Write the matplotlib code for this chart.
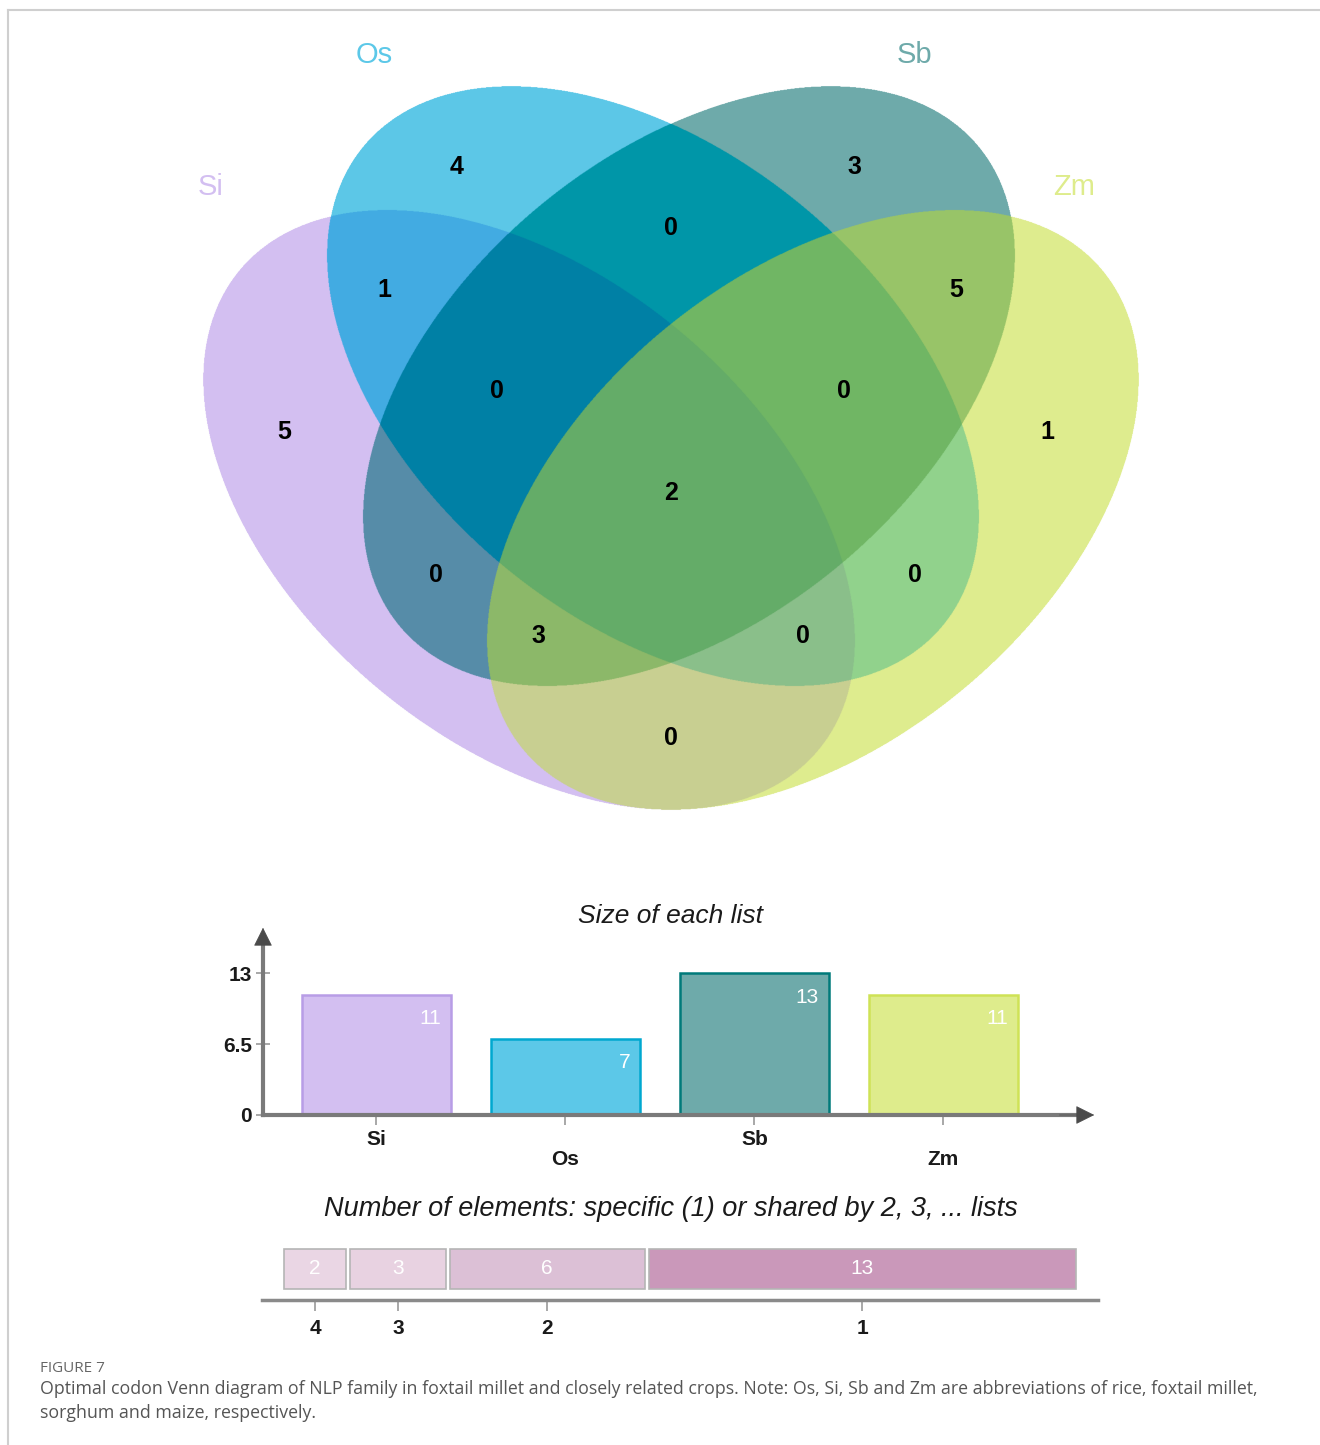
"""
Four-set Venn diagram of optimal codons with list sizes and sharing summary.
"""

import matplotlib
matplotlib.use("Agg")
import matplotlib.pyplot as plt
import numpy as np
from matplotlib.lines import Line2D
from matplotlib.patches import Rectangle

plt.rcParams["font.family"] = ["Liberation Sans", "DejaVu Sans"]

# ---- data -------------------------------------------------------------
SETS = ["Si", "Os", "Sb", "Zm"]
LIST_SIZES = [11, 7, 13, 11]

REGIONS = ["Si", "Os", "Sb", "Zm",
           "Si&Os", "Os&Sb", "Sb&Zm", "Si&Sb", "Os&Zm", "Si&Zm",
           "Si&Os&Sb", "Os&Sb&Zm", "Si&Sb&Zm", "Si&Os&Zm",
           "Si&Os&Sb&Zm"]
REGION_COUNTS = [5, 4, 3, 1,
                 1, 0, 5, 0, 0, 0,
                 0, 0, 3, 0,
                 2]

SHARED_BY = [4, 3, 2, 1]
SHARED_COUNTS = [2, 3, 6, 13]

# ---- styling / layout ------------------------------------------------
W, H = 1320, 1445
SET_COLORS = {"Si": "#D3BFF1", "Os": "#5CC8E8", "Sb": "#6EAAAA", "Zm": "#DEEC8C"}
BAR_EDGES = {"Si": "#B89DE6", "Os": "#00A8D0", "Sb": "#007A7A", "Zm": "#CFE256"}

REGION_COLORS = {
    "Si": "#D3BFF1", "Os": "#5CC7E7", "Sb": "#6EAAAA", "Zm": "#DEEC8E",
    "Si&Os": "#42ABE2", "Os&Sb": "#0096A8", "Sb&Zm": "#98C468",
    "Si&Sb": "#568CA8", "Os&Zm": "#91D28C", "Si&Zm": "#C8CF91",
    "Si&Os&Sb": "#0080A5", "Os&Sb&Zm": "#70B664", "Si&Sb&Zm": "#8CB869",
    "Si&Os&Zm": "#8ABF8A", "Si&Os&Sb&Zm": "#64AC68",
}

# ellipse geometry in pixel space (cx, cy, semi-major, semi-minor, angle)
ELLIPSES = {
    "Si": (529, 510, 376, 234, 39.6),
    "Os": (653, 386, 376, 234, 39.6),
    "Sb": (689, 386, 376, 234, -39.6),
    "Zm": (813, 510, 376, 234, -39.6),
}
LABEL_POS = {
    "Si": (284, 432), "Os": (457, 167), "Sb": (854, 167), "Zm": (1047, 432),
    "Si&Os": (384, 290), "Os&Sb": (671, 228), "Sb&Zm": (956, 290),
    "Si&Sb": (436, 575), "Os&Zm": (915, 575), "Si&Zm": (671, 738),
    "Si&Os&Sb": (497, 391), "Os&Sb&Zm": (844, 391), "Si&Sb&Zm": (538, 636),
    "Si&Os&Zm": (803, 636), "Si&Os&Sb&Zm": (671, 493),
}
SET_NAME_POS = {"Si": (211, 187), "Os": (374, 55), "Sb": (914, 55), "Zm": (1074, 187)}


def inside(X, Y, cx, cy, a, b, ang):
    t = np.deg2rad(ang)
    dx, dy = X - cx, Y - cy
    u = dx * np.cos(t) + dy * np.sin(t)
    v = -dx * np.sin(t) + dy * np.cos(t)
    return (u / a) ** 2 + (v / b) ** 2 <= 1


def main() -> None:
    fig = plt.figure(figsize=(W / 100, H / 100), dpi=100)

    # frame lines of the page
    fig.add_artist(Line2D([8 / W, 1], [1 - 10 / H] * 2, color="#cfcfcf", lw=1.5))
    fig.add_artist(Line2D([8 / W] * 2, [0, 1 - 10 / H], color="#cfcfcf", lw=1.5))

    # ---- Venn -----------------------------------------------------------
    vax = fig.add_axes([0, 0, 1, 1])
    vax.set_xlim(0, W)
    vax.set_ylim(H, 0)
    vax.axis("off")

    x0, x1, y0, y1, ss = 180, 1160, 60, 840, 2
    xs = np.arange(x0, x1, 1 / ss) + 0.5 / ss
    ys = np.arange(y0, y1, 1 / ss) + 0.5 / ss
    X, Y = np.meshgrid(xs, ys)
    code = np.zeros(X.shape, dtype=np.int16)
    for i, s in enumerate(SETS):
        code |= (inside(X, Y, *ELLIPSES[s]).astype(np.int16) << i)

    lut = np.zeros((16, 4), dtype=np.uint8)
    lut[0] = [255, 255, 255, 0]
    for region in REGIONS:
        bits = sum(1 << SETS.index(s) for s in region.split("&"))
        rgb = matplotlib.colors.to_rgb(REGION_COLORS[region])
        lut[bits] = [int(round(c * 255)) for c in rgb] + [255]
    rgba = lut[code]
    vax.imshow(rgba, extent=(x0, x1, y1, y0), interpolation="antialiased", zorder=1)
    vax.set_xlim(0, W)
    vax.set_ylim(H, 0)

    for region, n in zip(REGIONS, REGION_COUNTS):
        x, y = LABEL_POS[region]
        vax.text(x, y, str(n), ha="center", va="center", fontsize=18,
                 fontweight="bold", color="black", zorder=3)
    for s in SETS:
        x, y = SET_NAME_POS[s]
        vax.text(x, y, s, ha="center", va="center", fontsize=21,
                 color=SET_COLORS[s], zorder=3)

    # ---- size of each list ---------------------------------------------
    bx_l, bx_r, by_b, by_t = 263, 1097, 1115, 925
    bax = fig.add_axes([bx_l / W, 1 - by_b / H, (bx_r - bx_l) / W, (by_b - by_t) / H])
    bax.patch.set_alpha(0)
    xpos = np.arange(len(SETS))
    bars = bax.bar(xpos, LIST_SIZES, width=0.79,
                   color=[SET_COLORS[s] for s in SETS],
                   edgecolor=[BAR_EDGES[s] for s in SETS], linewidth=1.8, zorder=2)
    bax.set_xlim(-0.6, 3.813)
    bax.set_ylim(0, 17.4)
    for sp in bax.spines.values():
        sp.set_visible(False)
    bax.plot([-0.6, 3.7], [0, 0], color="#7a7a7a", lw=3, zorder=3, clip_on=False)
    bax.plot([-0.6, -0.6], [0, 16.5], color="#7a7a7a", lw=3, zorder=3, clip_on=False)
    bax.annotate("", xy=(3.813, 0), xytext=(3.6, 0),
                 arrowprops=dict(arrowstyle="-|>", color="#4a4a4a", lw=0.5,
                                 mutation_scale=30), annotation_clip=False)
    bax.annotate("", xy=(-0.6, 17.4), xytext=(-0.6, 16.0),
                 arrowprops=dict(arrowstyle="-|>", color="#4a4a4a", lw=0.5,
                                 mutation_scale=30), annotation_clip=False)
    bax.set_yticks([0, 6.5, 13])
    bax.set_yticklabels(["0", "6.5", "13"])
    bax.set_xticks(xpos)
    bax.set_xticklabels(SETS)
    bax.tick_params(axis="y", direction="inout", length=10, width=1.2,
                    color="#9a9a9a", labelsize=15, pad=3, labelcolor="#1a1a1a")
    bax.tick_params(axis="x", direction="out", length=7, width=1.2,
                    color="#9a9a9a", labelsize=15, pad=4, labelcolor="#1a1a1a")
    for lab in bax.get_xticklabels() + bax.get_yticklabels():
        lab.set_fontweight("bold")
    for tick in bax.xaxis.get_major_ticks()[1::2]:
        tick.set_pad(18)
    for rect, n in zip(bars, LIST_SIZES):
        bax.annotate(str(n), xy=(rect.get_x() + rect.get_width(), n),
                     xytext=(-10, -24), textcoords="offset pixels",
                     ha="right", va="center", fontsize=15, color="white", zorder=4)
    fig.text(671 / W, 1 - 916 / H, "Size of each list", ha="center", va="center",
             fontsize=19, style="italic", color="#1a1a1a")

    # ---- shared-by summary ----------------------------------------------
    sx_l, sx_r, sy_b, sy_t = 262, 1098, 1300, 1240
    sax = fig.add_axes([sx_l / W, 1 - sy_b / H, (sx_r - sx_l) / W, (sy_b - sy_t) / H])
    sax.patch.set_alpha(0)
    seg_colors = ["#EAD6E4", "#E8D2E1", "#DCC0D6", "#CA98BA"]
    gap = 0.12
    left = 0
    centers = []
    for n, c in zip(SHARED_COUNTS, seg_colors):
        sax.add_patch(Rectangle((left + gap / 2, 0.183), n - gap, 0.667,
                                facecolor=c, edgecolor="#b5b5b5", lw=1.2))
        sax.text(left + n / 2, 0.517, str(n), ha="center", va="center",
                 fontsize=15, color="white")
        centers.append(left + n / 2)
        left += n
    sax.set_xlim(-0.6, 24.6)
    sax.set_ylim(0, 1)
    for name, sp in sax.spines.items():
        sp.set_visible(name == "bottom")
    sax.spines["bottom"].set_color("#8a8a8a")
    sax.spines["bottom"].set_linewidth(2.5)
    sax.set_yticks([])
    sax.set_xticks(centers)
    sax.set_xticklabels([str(k) for k in SHARED_BY])
    sax.tick_params(axis="x", direction="out", length=8, width=1.2,
                    color="#9a9a9a", labelsize=15, pad=6, labelcolor="#1a1a1a")
    for lab in sax.get_xticklabels():
        lab.set_fontweight("bold")
    fig.text(671 / W, 1 - 1209 / H,
             "Number of elements: specific (1) or shared by 2, 3, ... lists",
             ha="center", va="center", fontsize=19.5, style="italic", color="#1a1a1a")

    # ---- caption ---------------------------------------------------------
    cap_font = ["Open Sans", "DejaVu Sans"]
    fig.text(40 / W, 1 - 1369 / H, "FIGURE 7", ha="left", va="center",
             fontsize=11, color="#666666", family=cap_font)
    fig.text(40 / W, 1 - 1389 / H,
             "Optimal codon Venn diagram of NLP family in foxtail millet and closely related crops. "
             "Note: Os, Si, Sb and Zm are abbreviations of rice, foxtail millet,",
             ha="left", va="center", fontsize=12.75, color="#555555", family=cap_font)
    fig.text(40 / W, 1 - 1413 / H, "sorghum and maize, respectively.",
             ha="left", va="center", fontsize=12.75, color="#555555", family=cap_font)

    fig.savefig("out.png", dpi=100)
    plt.close(fig)


if __name__ == "__main__":
    main()
